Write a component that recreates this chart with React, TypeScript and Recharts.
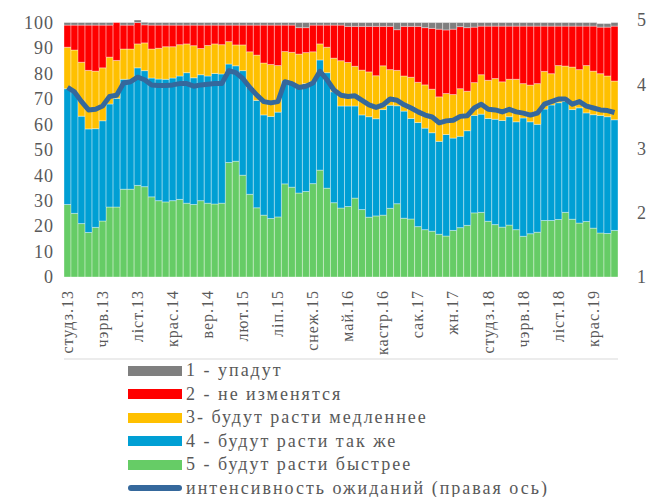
import { ComposedChart, Bar, Line, XAxis, YAxis } from "recharts";

// month names and years of the x axis
const MONTHS = ["студз.", "лют.", "сак.", "крас.", "май.", "чэрв.", "ліп.", "жн.", "вер.", "кастр.", "ліст.", "снеж."];
const START_YEAR = 13;
const MONTH_COUNT = 79; // студз.13 ... ліп.19

// 5 - будут расти быстрее
const fast = [
  28.5, 25, 21, 17.5, 19.5, 22, 27.5, 27.5, 34.5, 34.5, 36, 35.5, 31.5, 30, 29.5, 30, 30.5, 29, 28.5, 30,
  29, 28.7, 29, 45, 45.5, 40, 32.5, 27.2, 24.3, 23, 23.6, 36.6, 35.3, 33, 33.6, 36.7, 42, 34.9, 29.2, 27.1,
  27.7, 31, 26.5, 23.5, 24, 24.3, 27, 28.8, 23.1, 22.8, 19.8, 18.6, 18, 16.8, 16.1, 18.3, 19.4, 20.3, 25.2, 25.4,
  21.9, 20.6, 19.6, 20.4, 18.6, 16, 17, 17.6, 22.2, 22.2, 22.6, 25.4, 22.7, 21.2, 21.8, 19.2, 17.3, 17.1, 18.3,
];
// 4 - будут расти так же
const same = [
  45.5, 47.5, 42.2, 40.7, 38.8, 39.4, 40.5, 42.7, 43.2, 43.2, 46.2, 45.6, 46.7, 47.8, 48.2, 48.2, 48.5, 51.3, 49.8, 49.5,
  50, 51.3, 50.8, 38.7, 37.5, 41.1, 42, 42.2, 39.4, 40.1, 41.2, 40.4, 40.7, 42.1, 42.4, 40, 43.3, 45.4, 43.6, 40.1,
  39.5, 36.2, 37.2, 39.5, 38.2, 41.5, 40.5, 38.5, 42.1, 39.5, 40.9, 39.9, 38.7, 36.5, 39.9, 36.3, 35.9, 37.2, 38.3, 38.6,
  40.4, 41.4, 41.9, 42.6, 42.4, 46.5, 44, 42.4, 43.8, 45.4, 45.9, 43.6, 43.1, 45.3, 42.7, 44.6, 46.2, 45.9, 43.5,
];
// 3 - будут расти медленнее
const slower = [
  16.3, 16.7, 21.2, 23, 22.6, 20.8, 18.4, 14.9, 11.9, 11.9, 9.4, 10.9, 11.4, 12.1, 12.8, 12.3, 12.3, 11.3, 12.6, 10.3,
  12, 11.6, 11.5, 8.8, 8.2, 10.1, 14, 17.8, 20.4, 20.4, 18.3, 11.6, 12.3, 12.5, 12.2, 11.8, 6.3, 10, 13.2, 17.8,
  17.1, 15.6, 17.6, 17.6, 16.9, 17.2, 14, 13.9, 13.8, 16.2, 15.8, 17, 17.1, 17.5, 16.1, 17.1, 18.7, 15.5, 12.9, 15.5,
  15, 16, 15.2, 14.7, 16.7, 13.5, 14.4, 16, 14.8, 12.3, 14.6, 13.9, 16.7, 15, 18.6, 17.1, 16.4, 16, 15.2,
];
// 2 - не изменятся
const unchanged = [
  8.7, 9.8, 14.6, 17.8, 18.1, 16.8, 12.6, 14.9, 9.4, 9.4, 8.4, 7.1, 9.4, 9.1, 8.5, 8.5, 7.7, 7.4, 8.1, 9.2,
  8, 7.4, 7.7, 6.5, 7.8, 7.8, 10.5, 11.8, 14.9, 15.5, 15.9, 10.4, 10.7, 10.4, 9.8, 10.5, 7.4, 8.7, 13, 14,
  14.2, 15.7, 17.2, 17.9, 19.4, 15.5, 17, 16, 19.5, 20, 22, 22.5, 23.9, 26.6, 25, 25.7, 24.4, 25, 21.8, 19.1,
  21.3, 20.6, 21.9, 20.9, 20.9, 22.6, 23.2, 22.6, 17.8, 18.7, 15.5, 15.7, 16.1, 17.1, 15.5, 17.7, 18.3, 19.2, 21.6,
];
// 1 - упадут
const fall = [
  1, 1, 1, 1, 1, 1, 1, 0, 1, 1, 1, 1, 1, 1, 1, 1, 1, 1, 1, 1,
  1, 1, 1, 1, 1, 1, 1, 1, 1, 1, 1, 1, 1, 2, 2, 1, 1, 1, 1, 1,
  1.5, 1.5, 1.5, 1.5, 1.5, 1.5, 1.5, 2.8, 1.5, 1.5, 1.5, 2, 2.3, 2.6, 2.9, 2.6, 1.6, 2, 1.8, 1.4,
  1.4, 1.4, 1.4, 1.4, 1.4, 1.4, 1.4, 1.4, 1.4, 1.4, 1.4, 1.4, 1.4, 1.4, 1.4, 1.4, 1.4, 1.4, 1.4,
];
// интенсивность ожиданий (правая ось)
const intensity = [
  3.95, 3.88, 3.73, 3.6, 3.61, 3.66, 3.81, 3.83, 4.02, 4.04, 4.11, 4.07, 3.99, 3.98, 3.98, 3.99, 4.01, 4.01, 3.97, 3.99,
  4.0, 4.01, 4.01, 4.21, 4.18, 4.09, 3.95, 3.83, 3.73, 3.71, 3.73, 4.04, 4.01, 3.95, 3.97, 4.02, 4.2, 4.07, 3.91, 3.83,
  3.81, 3.82, 3.75, 3.68, 3.64, 3.68, 3.77, 3.75, 3.68, 3.63, 3.57, 3.52, 3.49, 3.4, 3.43, 3.44, 3.5, 3.51, 3.63, 3.69,
  3.61, 3.6, 3.57, 3.61, 3.57, 3.55, 3.52, 3.55, 3.69, 3.73, 3.77, 3.77, 3.69, 3.73, 3.66, 3.63, 3.6, 3.59, 3.56,
];

const leftTicks = [0, 10, 20, 30, 40, 50, 60, 70, 80, 90, 100];
const rightTicks = [1, 2, 3, 4, 5];
const boundaryTicks = [0, 5, 10, 15, 20, 25, 30, 35, 40, 45, 50, 55, 60, 65, 70, 75];

const labels: string[] = [];
for (let i = 0; i < MONTH_COUNT; i++) {
  labels.push(MONTHS[i % 12] + (START_YEAR + Math.floor(i / 12)));
}

const data = labels.map((label, i) => ({
  idx: i,
  label,
  fast: fast[i],
  same: same[i],
  slower: slower[i],
  unchanged: unchanged[i],
  fall: fall[i],
  intensity: intensity[i],
}));

const FONT = "Liberation Serif, Times New Roman, DejaVu Serif, serif";
const TEXT = "#595959";

const legendItems = [
  { name: "1 - упадут", color: "#7f7f7f" },
  { name: "2 - не изменятся", color: "#ff0000" },
  { name: "3- будут расти медленнее", color: "#ffc000" },
  { name: "4 - будут расти так же", color: "#009fd4" },
  { name: "5 - будут расти быстрее", color: "#66cc66" },
];
const LINE_COLOR = "#35689c";

const XTick = (props: any) => {
  const { x, y, payload } = props;
  return (
    <text
      x={x}
      y={y}
      transform={`rotate(-90 ${x} ${y})`}
      textAnchor="end"
      dy="0.33em"
      fill={TEXT}
      fontSize={16}
      letterSpacing={1}
      style={{ fontFamily: FONT }}
    >
      {payload.value}
    </text>
  );
};

const RTick = (props: any) => {
  const { x, y, payload } = props;
  return (
    <text x={x} y={y} dy="0.35em" textAnchor="start" fill={TEXT} fontSize={18} style={{ fontFamily: FONT }}>
      {payload.value}
    </text>
  );
};

const LTick = (props: any) => {
  const { x, y, payload } = props;
  return (
    <text x={x} y={y} dy="0.35em" textAnchor="end" fill={TEXT} fontSize={18} letterSpacing={1} style={{ fontFamily: FONT }}>
      {payload.value}
    </text>
  );
};

const barStroke = "rgba(255,255,255,0.35)";

export default function App() {
  return (
    <div style={{ position: "relative", width: 639, height: 489, padding: "8px 0 0 8px", fontFamily: FONT }}>
      <style>{"html,body{margin:0;padding:0;overflow:hidden;}"}</style>
      <ComposedChart
        width={639}
        height={352}
        data={data}
        barCategoryGap={0}
        margin={{ top: 12, right: 0, left: 0, bottom: 0 }}
      >
        <XAxis
          xAxisId="ticks"
          type="number"
          dataKey="idx"
          domain={[0, MONTH_COUNT]}
          allowDataOverflow
          ticks={boundaryTicks}
          tick={false}
          tickSize={5}
          tickLine={{ stroke: "#d9d9d9" }}
          axisLine={{ stroke: "#d9d9d9" }}
          height={1}
        />
        <XAxis
          xAxisId="cat"
          dataKey="label"
          interval={4}
          tickLine={false}
          axisLine={false}
          tickSize={0}
          tickMargin={13}
          tick={<XTick />}
          height={82}
        />
        <YAxis
          yAxisId="l"
          domain={[0, 100]}
          ticks={leftTicks}
          width={56}
          axisLine={false}
          tickLine={false}
          tickSize={0}
          tickMargin={10}
          tick={<LTick />}
        />
        <YAxis
          yAxisId="r"
          orientation="right"
          domain={[1, 5]}
          ticks={rightTicks}
          width={29}
          axisLine={false}
          tickLine={false}
          tickSize={0}
          tickMargin={19}
          tick={<RTick />}
        />
        <Bar xAxisId="cat" yAxisId="l" dataKey="fast" stackId="s" fill="#66cc66" stroke={barStroke} isAnimationActive={false} />
        <Bar xAxisId="cat" yAxisId="l" dataKey="same" stackId="s" fill="#009fd4" stroke={barStroke} isAnimationActive={false} />
        <Bar xAxisId="cat" yAxisId="l" dataKey="slower" stackId="s" fill="#ffc000" stroke={barStroke} isAnimationActive={false} />
        <Bar xAxisId="cat" yAxisId="l" dataKey="unchanged" stackId="s" fill="#ff0000" stroke={barStroke} isAnimationActive={false} />
        <Bar xAxisId="cat" yAxisId="l" dataKey="fall" stackId="s" fill="#7f7f7f" stroke={barStroke} isAnimationActive={false} />
        <Line
          xAxisId="cat"
          yAxisId="r"
          dataKey="intensity"
          stroke={LINE_COLOR}
          strokeWidth={5}
          dot={false}
          strokeLinejoin="round"
          isAnimationActive={false}
        />
      </ComposedChart>

      {/* legend */}
      <div
        style={{
          position: "absolute",
          left: 128,
          top: 359,
          fontFamily: FONT,
          fontSize: 18,
          letterSpacing: 2,
          color: TEXT,
        }}
      >
        {legendItems.map((it) => (
          <div key={it.name} style={{ height: 23.5, display: "flex", alignItems: "center" }}>
            <div style={{ width: 54, height: 10, background: it.color, marginRight: 4 }} />
            <span style={{ whiteSpace: "nowrap" }}>{it.name}</span>
          </div>
        ))}
        <div style={{ height: 23.5, display: "flex", alignItems: "center" }}>
          <div style={{ width: 54, height: 6, borderRadius: 3, background: LINE_COLOR, marginRight: 4 }} />
          <span style={{ whiteSpace: "nowrap" }}>интенсивность ожиданий (правая ось)</span>
        </div>
      </div>
    </div>
  );
}
